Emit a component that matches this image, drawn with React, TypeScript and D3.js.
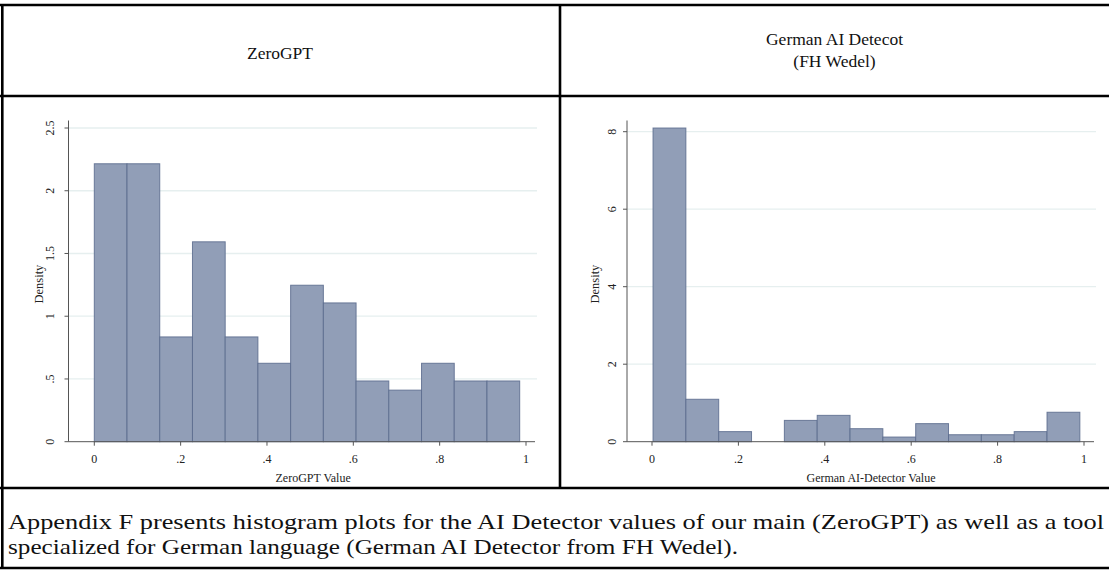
import React from "react";
import * as d3 from "d3";

// ---------- data ----------
const zeroGptDensity = [2.215, 2.215, 0.835, 1.593, 0.835, 0.625, 1.247, 1.106, 0.484, 0.411, 0.625, 0.484, 0.484];
const zeroGptBinStart = 0;
const zeroGptBinWidth = 0.0758;

const germanDensity = [8.095, 1.095, 0.26, 0, 0.55, 0.68, 0.336, 0.12, 0.466, 0.18, 0.18, 0.26, 0.76];
const germanBinStart = 0.0024;
const germanBinWidth = 0.076;

const xTickValues = [0, 0.2, 0.4, 0.6, 0.8, 1];
const xTickLabels = ["0", ".2", ".4", ".6", ".8", "1"];
const zeroYTicks = [0, 0.5, 1, 1.5, 2, 2.5];
const zeroYTickLabels = ["0", ".5", "1", "1.5", "2", "2.5"];
const germanYTicks = [0, 2, 4, 6, 8];
const germanYTickLabels = ["0", "2", "4", "6", "8"];

const headerLeft = ["ZeroGPT"];
const headerRight = ["German AI Detecot", "(FH Wedel)"];
const xTitleLeft = "ZeroGPT Value";
const xTitleRight = "German AI-Detector Value";
const yTitle = "Density";
const captionLines = [
  "Appendix F presents histogram plots for the AI Detector values of our main (ZeroGPT) as well as a tool",
  "specialized for German language (German AI Detector from FH Wedel).",
];

// ---------- styles ----------
const FONT = "'Liberation Serif', 'Times New Roman', serif";
const BAR_FILL = "#919eb7";
const BAR_STROKE = "#5b6b8d";
const GRID = "#e6efef";
const AXIS = "#555";

type PanelProps = {
  density: number[];
  binStart: number;
  binWidth: number;
  yTicks: number[];
  yTickLabels: string[];
  yMax: number;
  xTitle: string;
  axisX: number;
  x0: number;
  x1: number;
  axisEnd: number;
  yLabelX: number;
  yTitleX: number;
};

const Y_BOTTOM = 441.7;
const Y_AXIS_TOP = 120.5;

function Panel(p: PanelProps) {
  const x = d3.scaleLinear().domain([0, 1]).range([p.x0, p.x1]);
  const topTick = p.yTicks[p.yTicks.length - 1];
  const y = d3.scaleLinear().domain([0, topTick]).range([Y_BOTTOM, p.yMax]);
  return (
    <g>
      {p.yTicks.slice(1).map((t) => (
        <line key={"g" + t} x1={p.axisX} x2={p.axisEnd + 2} y1={y(t)} y2={y(t)} stroke={GRID} strokeWidth={1.3} />
      ))}
      {p.density.map((d, i) =>
        d > 0 ? (
          <rect
            key={"b" + i}
            x={x(p.binStart + i * p.binWidth)}
            y={y(d)}
            width={x(p.binStart + (i + 1) * p.binWidth) - x(p.binStart + i * p.binWidth)}
            height={Y_BOTTOM - y(d)}
            fill={BAR_FILL}
            stroke={BAR_STROKE}
            strokeWidth={1}
            strokeOpacity={0.85}
          />
        ) : null
      )}
      <line x1={p.axisX} x2={p.axisX} y1={Y_AXIS_TOP} y2={Y_BOTTOM} stroke={AXIS} strokeWidth={1} />
      {p.yTicks.map((t, i) => (
        <g key={"yt" + t}>
          <line x1={p.axisX - 4} x2={p.axisX} y1={y(t)} y2={y(t)} stroke={AXIS} strokeWidth={1} />
          <text
            transform={`translate(${p.yLabelX},${y(t)}) rotate(-90)`}
            textAnchor="middle"
            fontFamily={FONT}
            fontSize={12}
            fill="#222"
          >
            {p.yTickLabels[i]}
          </text>
        </g>
      ))}
      <text
        transform={`translate(${p.yTitleX},${(Y_AXIS_TOP + Y_BOTTOM) / 2 + 3}) rotate(-90)`}
        textAnchor="middle"
        fontFamily={FONT}
        fontSize={12.5}
        fill="#222"
      >
        {yTitle}
      </text>
      <line x1={p.axisX} x2={p.axisEnd} y1={Y_BOTTOM} y2={Y_BOTTOM} stroke={AXIS} strokeWidth={1} />
      {xTickValues.map((t, i) => (
        <g key={"xt" + t}>
          <line x1={x(t)} x2={x(t)} y1={Y_BOTTOM} y2={Y_BOTTOM + 4} stroke={AXIS} strokeWidth={1} />
          <text x={x(t)} y={Y_BOTTOM + 21} textAnchor="middle" fontFamily={FONT} fontSize={12} fill="#222">
            {xTickLabels[i]}
          </text>
        </g>
      ))}
      <text x={(p.x0 + p.x1) / 2 + 3} y={Y_BOTTOM + 40} textAnchor="middle" fontFamily={FONT} fontSize={12} fill="#222">
        {p.xTitle}
      </text>
    </g>
  );
}

export default function App() {
  const W = 1109;
  const H = 571;
  const TOP = 5;
  const HEAD_DIV = 96;
  const VDIV = 560;
  const CAP_DIV = 488;
  const BOTTOM = 568;
  return (
    <svg
      width={W}
      height={H}
      style={{ position: "absolute", left: 0, top: 0, background: "#fff" }}
      xmlns="http://www.w3.org/2000/svg"
    >
      <rect x={0} y={0} width={W} height={H} fill="#fff" />
      <g stroke="#000" strokeWidth={2.6} fill="none">
        <line x1={0} x2={W} y1={TOP} y2={TOP} />
        <line x1={0} x2={W} y1={HEAD_DIV} y2={HEAD_DIV} />
        <line x1={0} x2={W} y1={CAP_DIV} y2={CAP_DIV} />
        <line x1={0} x2={W} y1={BOTTOM} y2={BOTTOM} />
        <line x1={2.3} x2={2.3} y1={TOP} y2={BOTTOM} />
        <line x1={VDIV} x2={VDIV} y1={TOP} y2={CAP_DIV} />
      </g>
      <text x={VDIV / 2} y={59} textAnchor="middle" fontFamily={FONT} fontSize={17.5} fill="#111">
        {headerLeft[0]}
      </text>
      {headerRight.map((t, i) => (
        <text key={t} x={(VDIV + W) / 2} y={45 + i * 22} textAnchor="middle" fontFamily={FONT} fontSize={17.5} fill="#111">
          {t}
        </text>
      ))}
      <Panel
        density={zeroGptDensity}
        binStart={zeroGptBinStart}
        binWidth={zeroGptBinWidth}
        yTicks={zeroYTicks}
        yTickLabels={zeroYTickLabels}
        yMax={128}
        xTitle={xTitleLeft}
        axisX={68.5}
        x0={94.3}
        x1={526}
        axisEnd={535}
        yLabelX={54}
        yTitleX={43}
      />
      <Panel
        density={germanDensity}
        binStart={germanBinStart}
        binWidth={germanBinWidth}
        yTicks={germanYTicks}
        yTickLabels={germanYTickLabels}
        yMax={131.7}
        xTitle={xTitleRight}
        axisX={627}
        x0={652}
        x1={1084}
        axisEnd={1094}
        yLabelX={616}
        yTitleX={599}
      />
      {captionLines.map((t, i) => (
        <text
          key={i}
          x={8}
          y={529 + i * 25}
          fontFamily={FONT}
          fontSize={22}
          fill="#111"
          textLength={i === 0 ? 1096 : 730}
          lengthAdjust="spacingAndGlyphs"
        >
          {t}
        </text>
      ))}
    </svg>
  );
}
